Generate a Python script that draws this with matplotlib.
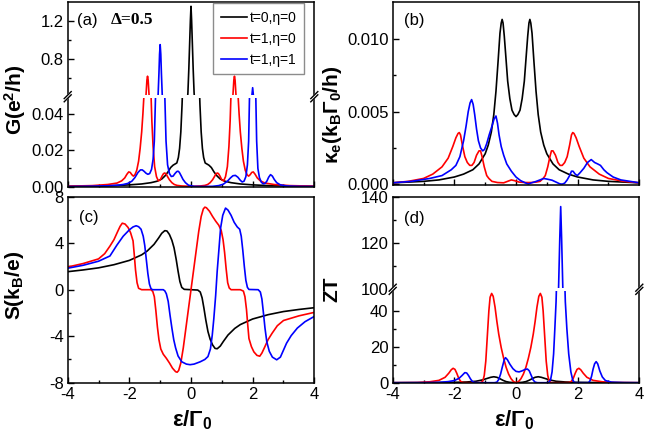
import matplotlib
matplotlib.use("Agg")
import matplotlib.pyplot as plt
from matplotlib.lines import Line2D
from matplotlib.patches import Polygon
from matplotlib.ticker import FixedLocator, MultipleLocator, FormatStrFormatter

# ---------------- data ----------------
# (a) conductance G
g_t0_x = [-4, -3, -2.5, -2, -1.6, -1.3, -1.1, -0.95, -0.85, -0.75, -0.66, -0.58, -0.52, -0.46,
          -0.41, -0.37, -0.33, -0.29, -0.25, -0.21, -0.17, -0.13, -0.1, -0.07, -0.04, -0.02, 0,
          0.02, 0.04, 0.07, 0.1, 0.13, 0.17, 0.21, 0.25, 0.29, 0.33, 0.37, 0.41, 0.46, 0.52,
          0.58, 0.66, 0.75, 0.85, 0.95, 1.1, 1.3, 1.6, 2, 2.5, 3, 4]
g_t0_y = [0.0002, 0.0004, 0.0006, 0.001, 0.0015, 0.0022, 0.003, 0.0042, 0.0058, 0.008, 0.0105,
          0.0118, 0.0124, 0.013, 0.016, 0.021, 0.03, 0.045, 0.065, 0.1, 0.16, 0.3, 0.45, 0.7,
          1.0, 1.2, 1.35,
          1.2, 1.0, 0.7, 0.45, 0.3, 0.16, 0.1, 0.065, 0.045, 0.03, 0.021, 0.016, 0.013, 0.0124,
          0.0118, 0.0105, 0.008, 0.0058, 0.0042, 0.003, 0.0022, 0.0015, 0.001, 0.0006, 0.0004,
          0.0002]

g_t1_x = [-4, -3.2, -2.7, -2.4, -2.25, -2.15, -2.08, -2.02, -1.97, -1.92, -1.87, -1.82, -1.76,
          -1.70, -1.65, -1.60, -1.56, -1.52, -1.49, -1.46, -1.43, -1.41, -1.39, -1.36, -1.33,
          -1.30, -1.27, -1.23, -1.18, -1.12, -1.06, -1.0, -0.94, -0.89, -0.85, -0.81, -0.76,
          -0.7, -0.62, -0.54, -0.45, -0.3, -0.15, 0,
          0.15, 0.3, 0.45, 0.54, 0.62, 0.7, 0.76, 0.81, 0.85, 0.89, 0.94, 1.0, 1.06, 1.12,
          1.18, 1.23, 1.27, 1.30, 1.33, 1.36, 1.39, 1.41, 1.43, 1.46, 1.49, 1.52, 1.56, 1.60,
          1.65, 1.70, 1.76, 1.82, 1.87, 1.92, 1.97, 2.02, 2.08, 2.15, 2.25, 2.4, 2.7, 3.2, 4]
g_t1_y = [0.0003, 0.0006, 0.0012, 0.002, 0.0032, 0.0048, 0.0068, 0.0081, 0.0078, 0.0066,
          0.0058, 0.0065, 0.009, 0.014, 0.021, 0.03, 0.04, 0.052, 0.2, 0.42, 0.58, 0.62, 0.58,
          0.42, 0.2, 0.052, 0.036, 0.022, 0.011, 0.0055, 0.0032, 0.0037, 0.0058, 0.0072,
          0.0075, 0.007, 0.0055, 0.0038, 0.0022, 0.0012, 0.0007, 0.0004, 0.0003, 0.0002,
          0.0003, 0.0004, 0.0007, 0.0012, 0.0022, 0.0038, 0.0055, 0.007, 0.0075, 0.0072,
          0.0058, 0.0037, 0.0032, 0.0055, 0.011, 0.022, 0.036, 0.052, 0.2, 0.42, 0.58, 0.62,
          0.58, 0.42, 0.2, 0.052, 0.04, 0.03, 0.021, 0.014, 0.009, 0.0065, 0.0058, 0.0066,
          0.0078, 0.0081, 0.0068, 0.0048, 0.0032, 0.002, 0.0012, 0.0006, 0.0003]

g_t1e1_x = [-4, -3.2, -2.7, -2.4, -2.2, -2.05, -1.92, -1.82, -1.72, -1.64, -1.58, -1.52, -1.46,
            -1.4, -1.34, -1.28, -1.23, -1.19, -1.15, -1.11, -1.07, -1.04, -1.02, -1.0, -0.98,
            -0.96, -0.93, -0.89, -0.85, -0.81, -0.76, -0.7, -0.64, -0.58, -0.52, -0.46, -0.42,
            -0.38, -0.32, -0.26, -0.18, -0.08, 0.1, 0.4, 0.7, 0.9, 1.05, 1.18, 1.28, 1.36,
            1.44, 1.52, 1.6, 1.66, 1.72, 1.78, 1.83, 1.87, 1.91, 1.94, 1.97, 2.0, 2.03, 2.06,
            2.09, 2.13, 2.17, 2.22, 2.28, 2.34, 2.4, 2.46, 2.52, 2.58, 2.64, 2.7, 2.78, 2.9,
            3.1, 3.5, 4]
g_t1e1_y = [0.0001, 0.0003, 0.0005, 0.0008, 0.0012, 0.0018, 0.003, 0.005, 0.0078, 0.0092,
            0.0092, 0.0084, 0.0074, 0.0068, 0.0072, 0.0095, 0.015, 0.025, 0.05, 0.15, 0.4,
            0.65, 0.85, 0.95, 0.85, 0.65, 0.4, 0.15, 0.05, 0.025, 0.012, 0.0072, 0.0056,
            0.0058, 0.0072, 0.0083, 0.0085, 0.0079, 0.006, 0.004, 0.0022, 0.0008, 0.0002,
            0.0001, 0.0002, 0.0006, 0.0014, 0.003, 0.0048, 0.006, 0.0062, 0.0052, 0.0035,
            0.0026, 0.003, 0.0055, 0.012, 0.025, 0.06, 0.2, 0.4, 0.5, 0.4, 0.2, 0.06, 0.025,
            0.01, 0.005, 0.0025, 0.0016, 0.0018, 0.003, 0.0052, 0.0066, 0.0058, 0.004, 0.0022,
            0.001, 0.0004, 0.0002, 0.0001]

# (b) electronic thermal conductance
k_t0_x = [-4, -3.5, -3, -2.5, -2, -1.7, -1.4, -1.2, -1.0, -0.9, -0.8, -0.72, -0.65, -0.58,
          -0.52, -0.48, -0.45, -0.42, -0.38, -0.33, -0.27, -0.2, -0.13, -0.06, 0, 0.06, 0.13,
          0.2, 0.27, 0.33, 0.38, 0.42, 0.45, 0.48, 0.52, 0.58, 0.65, 0.72, 0.8, 0.9, 1.0, 1.2,
          1.4, 1.7, 2, 2.5, 3, 3.5, 4]
k_t0_y = [0.0001, 0.00015, 0.0002, 0.0003, 0.0005, 0.0007, 0.001, 0.0014, 0.0021, 0.0027,
          0.0036, 0.0048, 0.0064, 0.0085, 0.0104, 0.0111, 0.01135, 0.0111, 0.0102, 0.0088,
          0.0071, 0.0059, 0.0051, 0.0048, 0.00466, 0.0048, 0.0051, 0.0059, 0.0071, 0.0088,
          0.0102, 0.0111, 0.01135, 0.0111, 0.0104, 0.0085, 0.0064, 0.0048, 0.0036, 0.0027,
          0.0021, 0.0014, 0.001, 0.0007, 0.0005, 0.0003, 0.0002, 0.00015, 0.0001]

k_t1_x = [-4, -3.5, -3, -2.7, -2.4, -2.2, -2.05, -1.95, -1.88, -1.84, -1.8, -1.74, -1.66,
          -1.58, -1.5, -1.43, -1.36, -1.28, -1.2, -1.15, -1.1, -1.03, -0.95, -0.88, -0.78,
          -0.6, -0.4, -0.25, -0.15, -0.05, 0.1, 0.3, 0.5, 0.65,
          0.78, 0.88, 0.95, 1.03, 1.1, 1.15, 1.2, 1.28, 1.36, 1.43, 1.5, 1.58, 1.66, 1.74,
          1.8, 1.84, 1.88, 1.95, 2.05, 2.2, 2.4, 2.7, 3, 3.5, 4]
k_t1_y = [0.0001, 0.0002, 0.0004, 0.0007, 0.0012, 0.0018, 0.0026, 0.0032, 0.0035, 0.00356,
          0.0034, 0.0027, 0.0019, 0.0015, 0.0013, 0.0013, 0.0015, 0.002, 0.0023, 0.0023,
          0.0019, 0.0012, 0.0006, 0.0004, 0.0002,
          0.00012, 0.0001, 0.00022, 0.0003, 0.00025, 0.00015, 0.00012, 0.00012, 0.00015,
          0.0002, 0.0004, 0.0006, 0.0012, 0.0019, 0.0023, 0.0023, 0.002, 0.0015, 0.0013,
          0.0013, 0.0015, 0.0019, 0.0027, 0.0034, 0.00356, 0.0035, 0.0032, 0.0026, 0.0018,
          0.0012, 0.0007, 0.0004, 0.0002, 0.0001]

k_t1e1_x = [-4, -3.4, -2.8, -2.4, -2.1, -1.95, -1.82, -1.7, -1.62, -1.55, -1.49, -1.44, -1.39,
            -1.34, -1.28, -1.22, -1.15, -1.08, -1.02, -0.95, -0.87, -0.78, -0.71, -0.65, -0.6,
            -0.55, -0.48, -0.4, -0.3, -0.15, 0, 0.15, 0.3, 0.4, 0.5, 0.63, 0.78, 0.9, 1.02,
            1.17, 1.3, 1.42, 1.5, 1.58, 1.66, 1.74, 1.8, 1.85, 1.92, 1.99, 2.08, 2.2, 2.32,
            2.44, 2.55, 2.65, 2.74, 2.85, 2.95, 3.15, 3.4, 3.7, 4]
k_t1e1_y = [0.0001, 0.0002, 0.0004, 0.0006, 0.001, 0.0013, 0.0019, 0.003, 0.004, 0.005,
            0.0056, 0.00583, 0.0055, 0.0048, 0.0038, 0.003, 0.0025, 0.0023, 0.0024, 0.0028,
            0.0034, 0.004, 0.0045, 0.0047, 0.0042, 0.0034, 0.0026, 0.002, 0.0014, 0.0009,
            0.0005, 0.00025, 0.0001, 0.00002, 0.0001, 0.00018, 0.0003, 0.0004, 0.00035,
            0.00028, 0.00015, 0.00003, 0.00001, 0.00008, 0.0003, 0.0006, 0.0009, 0.0009,
            0.0007, 0.0006, 0.0008, 0.0011, 0.0015, 0.0017, 0.0015, 0.0014, 0.0013, 0.001,
            0.0008, 0.0005, 0.0003, 0.0002, 0.0001]

# (c) thermopower S
s_t0_x = [-4, -3.5, -3, -2.5, -2, -1.6, -1.42, -1.2, -1.05, -0.95, -0.85, -0.78, -0.7, -0.62,
          -0.55, -0.48, -0.42, -0.36, -0.3, -0.22, 0, 0.22, 0.3, 0.36, 0.42, 0.48, 0.55, 0.62,
          0.7, 0.78, 0.85, 0.95, 1.05, 1.2, 1.42, 1.6, 2, 2.5, 3, 3.5, 4]
s_t0_y = [1.55, 1.7, 1.88, 2.15, 2.52, 3.0, 3.33, 3.9, 4.45, 4.85, 5.08, 5.05, 4.75, 4.25,
          3.6, 2.6, 1.6, 0.7, 0.2, 0.03, 0, -0.03, -0.2, -0.7, -1.6, -2.6, -3.6, -4.25, -4.75,
          -5.05, -5.08, -4.85, -4.45, -3.9, -3.33, -3.0, -2.52, -2.15, -1.88, -1.7, -1.55]

s_t1_x = [-4, -3.5, -3, -2.8, -2.63, -2.5, -2.38, -2.3, -2.23, -2.14, -2.04, -1.96, -1.88,
          -1.84, -1.8, -1.75, -1.7, -1.6, -1.3, -1.24, -1.19, -1.14, -1.09, -1.04, -0.98,
          -0.9, -0.8, -0.7, -0.6, -0.5, -0.45, -0.4, -0.33, -0.25, -0.17, -0.08, 0, 0.08,
          0.17, 0.25, 0.33, 0.4, 0.45, 0.5, 0.6, 0.7, 0.8, 0.9, 0.98, 1.04, 1.09, 1.14, 1.19,
          1.24, 1.3, 1.6, 1.7, 1.75, 1.8, 1.84, 1.88, 1.96, 2.04, 2.14, 2.23, 2.3, 2.38, 2.5,
          2.63, 2.8, 3, 3.5, 4]
s_t1_y = [1.95, 2.25, 2.65, 3.1, 3.75, 4.3, 5.0, 5.45, 5.72, 5.65, 5.35, 4.9, 4.2, 3.0, 1.7,
          0.6, 0.12, 0.0, 0.0, -0.15, -0.6, -1.8, -3.2, -4.3, -5.1, -5.55, -5.9, -6.3, -6.75,
          -7.05, -7.1, -6.95, -6.3, -5.0, -3.4, -1.6, 0, 1.6, 3.4, 5.0, 6.3, 6.95, 7.1, 7.05,
          6.75, 6.3, 5.9, 5.55, 5.1, 4.3, 3.2, 1.8, 0.6, 0.15, 0.0, 0.0, -0.12, -0.6, -1.7,
          -3.0, -4.2, -4.9, -5.35, -5.65, -5.72, -5.45, -5.0, -4.3, -3.75, -3.1, -2.65, -2.25,
          -1.95]

s_t1e1_x = [-4, -3.5, -3, -2.63, -2.4, -2.2, -2.0, -1.88, -1.78, -1.7, -1.62, -1.55, -1.5,
            -1.45, -1.4, -1.35, -1.3, -1.25, -0.9, -0.85, -0.8, -0.74, -0.68, -0.62, -0.56,
            -0.5, -0.42, -0.3, -0.15, -0.03, 0.1, 0.3, 0.45, 0.55, 0.63, 0.69, 0.74, 0.8,
            0.85, 0.91, 0.96, 1.03, 1.12, 1.2, 1.3, 1.4, 1.5, 1.58, 1.63, 1.68, 1.73, 1.78,
            1.83, 1.88, 2.18, 2.25, 2.3, 2.35, 2.4, 2.46, 2.54, 2.64, 2.78, 2.9, 3.0, 3.1,
            3.25, 3.45, 3.7, 4]
s_t1e1_y = [1.85, 2.1, 2.45, 2.9, 3.85, 4.6, 5.15, 5.4, 5.5, 5.42, 5.2, 4.6, 3.8, 2.6, 1.4,
            0.5, 0.1, 0.0, 0.0, -0.1, -0.35, -1.0, -2.2, -3.3, -4.3, -5.0, -5.7, -6.2, -6.4,
            -6.45, -6.4, -6.2, -6.0, -5.75, -5.1, -3.9, -2.5, -0.5, 1.6, 3.6, 5.3, 6.4, 7.02,
            6.85, 6.4, 5.8, 5.4, 5.2, 4.6, 3.4, 2.0, 0.8, 0.2, 0.02, 0.0, -0.2, -0.8, -2.0,
            -3.3, -4.5, -5.3, -5.8, -6.03, -5.8, -5.2, -4.6, -3.95, -3.3, -2.75, -2.3]

# (d) figure of merit ZT
zt_t0_x = [-4, -3, -2.5, -2.0, -1.6, -1.3, -1.1, -0.95, -0.82, -0.72, -0.62, -0.52, -0.42,
           -0.32, -0.2, 0, 0.2, 0.32, 0.42, 0.52, 0.62, 0.72, 0.82, 0.95, 1.1, 1.3, 1.6, 2.0,
           2.5, 3, 4]
zt_t0_y = [0, 0.05, 0.1, 0.2, 0.4, 0.8, 1.5, 2.3, 3.0, 3.3, 3.0, 2.2, 1.3, 0.6, 0.2, 0,
           0.2, 0.6, 1.3, 2.2, 3.0, 3.3, 3.0, 2.3, 1.5, 0.8, 0.4, 0.2, 0.1, 0.05, 0]

zt_t1_x = [-4, -3.2, -2.8, -2.5, -2.3, -2.18, -2.1, -2.04, -1.98, -1.92, -1.86, -1.8, -1.72,
           -1.5, -1.15, -1.08, -1.03, -0.98, -0.93, -0.88, -0.84, -0.79, -0.74, -0.68, -0.62,
           -0.56, -0.48, -0.4, -0.32, -0.24, -0.16, -0.08, 0, 0.08, 0.16, 0.24, 0.32, 0.4,
           0.48, 0.56, 0.62, 0.68, 0.74, 0.79, 0.84, 0.88, 0.93, 0.98, 1.03, 1.08, 1.15, 1.5,
           1.72, 1.8, 1.86, 1.92, 1.98, 2.04, 2.1, 2.18, 2.3, 2.5, 2.8, 3.2, 4]
zt_t1_y = [0, 0.1, 0.5, 1.3, 3.0, 5.3, 7.2, 8.0, 7.4, 5.2, 2.5, 0.8, 0.1, 0, 0, 0.8, 4.0, 12,
           26, 40, 47.5, 49.6, 48, 42, 34, 27, 19.5, 13.5, 8.5, 4.8, 2.2, 0.6, 0, 0.6, 2.2,
           4.8, 8.5, 13.5, 19.5, 27, 34, 42, 48, 49.6, 47.5, 40, 26, 12, 4.0, 0.8, 0, 0, 0.1,
           0.8, 2.5, 5.2, 7.4, 8.0, 7.2, 5.3, 3.0, 1.3, 0.5, 0.1, 0]

zt_t1e1_x = [-4, -3, -2.5, -2.2, -2.0, -1.85, -1.75, -1.66, -1.6, -1.54, -1.48, -1.42, -1.35,
             -1.2, -0.7, -0.62, -0.56, -0.5, -0.44, -0.38, -0.34, -0.28, -0.2, -0.1, 0.0, 0.1,
             0.2, 0.3, 0.37, 0.43, 0.5, 0.56, 0.62, 0.7, 1.05, 1.12, 1.17, 1.22, 1.26, 1.3,
             1.34, 1.38, 1.42, 1.45, 1.48, 1.52, 1.56, 1.6, 1.65, 1.71, 1.78, 1.84, 1.9, 2.35,
             2.4, 2.45, 2.5, 2.55, 2.6, 2.65, 2.72, 2.8, 2.9, 3.1, 3.5, 4]
zt_t1e1_y = [0, 0.05, 0.2, 0.6, 1.2, 2.4, 4.0, 5.6, 5.4, 4.0, 2.2, 0.8, 0.1, 0, 0, 0.3, 1.8,
             4.8, 9.0, 12.8, 13.9, 12.8, 10.3, 7.8, 6.3, 6.0, 6.6, 7.4, 7.6, 6.6, 3.8, 1.4,
             0.3, 0, 0, 1.5, 6.0, 16, 30, 45, 70, 100, 122, 136, 122, 100, 70, 45, 30, 16,
             6.0, 1.5, 0, 0, 1.0, 3.5, 7.5, 10.5, 11.7, 10.5, 6.5, 3.2, 1.2, 0.3, 0.05, 0]

labels = ["t=0,\u03b7=0", "t=1,\u03b7=0", "t=1,\u03b7=1"]
colors = ["black", "red", "blue"]

# ---------------- style ----------------
plt.rcParams["font.family"] = ["Liberation Sans", "DejaVu Sans"]
plt.rcParams["mathtext.fontset"] = "custom"
plt.rcParams["mathtext.rm"] = "Liberation Sans:bold"
plt.rcParams["mathtext.bf"] = "Liberation Sans:bold"
plt.rcParams["mathtext.it"] = "Liberation Sans:bold"
plt.rcParams["mathtext.default"] = "bf"
plt.rcParams["axes.unicode_minus"] = False

W, H = 646, 436
fig = plt.figure(figsize=(W / 100, H / 100), dpi=100)


def px_box(left, top, right, bottom):
    return [left / W, 1 - bottom / H, (right - left) / W, (bottom - top) / H]


def style(ax, xlabels=False):
    ax.set_xlim(-4, 4)
    ax.xaxis.set_major_locator(MultipleLocator(2))
    ax.xaxis.set_minor_locator(MultipleLocator(1))
    ax.tick_params(which="both", direction="in", top=False, right=False, labelsize=12, pad=3)
    ax.tick_params(which="major", length=4, width=1)
    ax.tick_params(which="minor", length=2.5, width=1)
    for s in ax.spines.values():
        s.set_linewidth(1.1)
    ax.tick_params(labelbottom=xlabels)


def draw(ax, curves, lw=1.2):
    lines = []
    for (x, y), c, lab in zip(curves, colors, labels):
        ln, = ax.plot(x, y, color=c, lw=lw, label=lab)
        lines.append(ln)
    return lines


def break_marks(x_left, x_right, y):
    # white gap plus "//" marks on both spines (pixel coords)
    band = Polygon([((x_left - 1) / W, 1 - (y - 1.3) / H), ((x_right + 1) / W, 1 - (y - 1.3) / H),
                    ((x_right + 1) / W, 1 - (y + 1.3) / H), ((x_left - 1) / W, 1 - (y + 1.3) / H)],
                   closed=True, transform=fig.transFigure, facecolor="white",
                   edgecolor="none", zorder=10)
    fig.add_artist(band)
    for xs in (x_left, x_right):
        gap = Polygon([((xs - 4) / W, 1 - (y + 1.5) / H), ((xs + 2) / W, 1 - (y - 4.5) / H),
                       ((xs + 4) / W, 1 - (y - 1.5) / H), ((xs - 2) / W, 1 - (y + 4.5) / H)],
                      closed=True, transform=fig.transFigure, facecolor="white",
                      edgecolor="none", zorder=11)
        fig.add_artist(gap)
        for dy in (-1.6, 1.6):
            fig.add_artist(Line2D([(xs - 3.5) / W, (xs + 3.5) / W],
                                  [1 - (y + dy + 3.5) / H, 1 - (y + dy - 3.5) / H],
                                  transform=fig.transFigure, color="black", lw=1.0,
                                  zorder=12))


# ---------------- (a) G, broken axis ----------------
g_curves = [(g_t0_x, g_t0_y), (g_t1_x, g_t1_y), (g_t1e1_x, g_t1e1_y)]
ax_a_top = fig.add_axes(px_box(67.7, 1.7, 314.3, 96.7))
ax_a_bot = fig.add_axes(px_box(67.7, 96.7, 314.3, 186.7))
leg_lines = draw(ax_a_top, g_curves)
draw(ax_a_bot, g_curves)
for ax in (ax_a_top, ax_a_bot):
    style(ax)
ax_a_top.set_ylim(0.406, 1.398)
ax_a_top.yaxis.set_major_locator(FixedLocator([0.8, 1.2]))
ax_a_top.yaxis.set_minor_locator(FixedLocator([0.6, 1.0]))
ax_a_top.yaxis.set_major_formatter(FormatStrFormatter("%.1f"))
ax_a_top.spines["bottom"].set_visible(False)
ax_a_top.tick_params(axis="x", which="both", bottom=False)
ax_a_bot.set_ylim(0, 0.0493)
ax_a_bot.yaxis.set_major_locator(FixedLocator([0, 0.02, 0.04]))
ax_a_bot.yaxis.set_minor_locator(FixedLocator([0.01, 0.03]))
ax_a_bot.yaxis.set_major_formatter(FormatStrFormatter("%.2f"))
ax_a_bot.spines["top"].set_visible(False)

leg = ax_a_top.legend(handles=leg_lines, loc="upper right",
                      bbox_to_anchor=(304 / W, 1 - 3 / H), bbox_transform=fig.transFigure,
                      fontsize=10, frameon=True, fancybox=False, edgecolor="#8c8c8c",
                      framealpha=1, handlelength=1.9, handletextpad=0.15, labelspacing=0.5,
                      borderpad=0.55, borderaxespad=0)
leg.get_frame().set_linewidth(1.0)
leg.set_zorder(20)

# ---------------- (b) kappa_e ----------------
ax_b = fig.add_axes(px_box(392.7, 1.7, 639.3, 185))
draw(ax_b, [(k_t0_x, k_t0_y), (k_t1_x, k_t1_y), (k_t1e1_x, k_t1e1_y)])
style(ax_b)
ax_b.set_ylim(-0.00005, 0.01257)
ax_b.yaxis.set_major_locator(FixedLocator([0, 0.005, 0.010]))
ax_b.yaxis.set_minor_locator(FixedLocator([0.0025, 0.0075]))
ax_b.yaxis.set_major_formatter(FormatStrFormatter("%.3f"))

# ---------------- (c) S ----------------
ax_c = fig.add_axes(px_box(67.7, 196.7, 314.3, 382.7))
draw(ax_c, [(s_t0_x, s_t0_y), (s_t1_x, s_t1_y), (s_t1e1_x, s_t1e1_y)])
style(ax_c, xlabels=True)
ax_c.set_ylim(-8, 8)
ax_c.yaxis.set_major_locator(FixedLocator([-8, -4, 0, 4, 8]))
ax_c.yaxis.set_minor_locator(FixedLocator([-6, -2, 2, 6]))

# ---------------- (d) ZT, broken axis ----------------
zt_curves = [(zt_t0_x, zt_t0_y), (zt_t1_x, zt_t1_y), (zt_t1e1_x, zt_t1e1_y)]
ax_d_top = fig.add_axes(px_box(392.7, 196.7, 639.3, 289.3))
ax_d_bot = fig.add_axes(px_box(392.7, 289.3, 639.3, 382.7))
draw(ax_d_top, zt_curves)
draw(ax_d_bot, zt_curves)
style(ax_d_top)
style(ax_d_bot, xlabels=True)
ax_d_top.set_ylim(100, 140.3)
ax_d_top.yaxis.set_major_locator(FixedLocator([100, 120, 140]))
ax_d_top.yaxis.set_minor_locator(FixedLocator([110, 130]))
ax_d_top.spines["bottom"].set_visible(False)
ax_d_top.tick_params(axis="x", which="both", bottom=False)
ax_d_bot.set_ylim(0, 51.9)
ax_d_bot.yaxis.set_major_locator(FixedLocator([0, 20, 40]))
ax_d_bot.yaxis.set_minor_locator(FixedLocator([10, 30]))
ax_d_bot.spines["top"].set_visible(False)

break_marks(67.7, 314.3, 96.7)
break_marks(392.7, 639.3, 289.3)

# ---------------- labels ----------------
def ftext(x, y, s, **kw):
    fig.text(x / W, 1 - y / H, s, **kw)


ftext(15, 100, "G(e$^2$/h)", fontsize=15, fontweight="bold", rotation=90, ha="center", va="center")
ftext(332, 115, "\u03ba$_e$(k$_B$\u0393$_0$/h)", fontsize=15, fontweight="bold", rotation=90,
      ha="center", va="center")
ftext(14, 285, "S(k$_B$/e)", fontsize=15, fontweight="bold", rotation=90, ha="center", va="center")
ftext(332, 289, "ZT", fontsize=15, fontweight="bold", rotation=90, ha="center", va="center")
ftext(192, 420, "\u03b5/\u0393$_0$", fontsize=16, fontweight="bold", ha="center", va="center")
ftext(514, 420, "\u03b5/\u0393$_0$", fontsize=16, fontweight="bold", ha="center", va="center")

ftext(77, 20, "(a)", fontsize=12, ha="left", va="center")
ftext(111, 20, "\u0394=0.5", fontsize=12.5, fontweight="bold", family="Liberation Serif",
      ha="left", va="center")
ftext(404, 21, "(b)", fontsize=12, ha="left", va="center")
ftext(79, 217, "(c)", fontsize=12, ha="left", va="center")
ftext(404, 218, "(d)", fontsize=12, ha="left", va="center")

fig.savefig("out.png", dpi=100)
